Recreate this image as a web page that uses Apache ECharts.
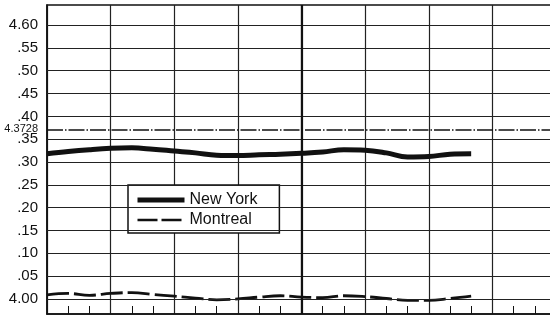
<!DOCTYPE html>
<html>
<head>
<meta charset="utf-8">
<script src="https://cdn.jsdelivr.net/npm/echarts@6/dist/echarts.min.js"></script>
<style>
  html, body { margin: 0; padding: 0; background: #fff; }
  #chart { width: 550px; height: 317px; }
</style>
</head>
<body>
<div id="chart"></div>
<script>
// months from the start of the period (vertical grid every 3 months)
const months = [0, 1, 2, 3, 4, 5, 6, 7, 8, 9, 10, 11, 12, 13, 14, 15, 16, 17, 18, 19, 20]
const newYork = [4.318, 4.323, 4.327, 4.330, 4.331, 4.328, 4.324, 4.320, 4.315, 4.314, 4.316,
  4.317, 4.319, 4.322, 4.327, 4.326, 4.320, 4.311, 4.312, 4.317, 4.318]
const montreal = [4.009, 4.012, 4.008, 4.012, 4.014, 4.010, 4.006, 4.002, 3.998, 4.000, 4.004,
  4.007, 4.004, 4.003, 4.007, 4.005, 4.001, 3.997, 3.997, 4.001, 4.006]

const yTickValues = [4.00, 4.05, 4.10, 4.15, 4.20, 4.25, 4.30, 4.35, 4.40, 4.45, 4.50, 4.55, 4.60]
const yTickLabels = ['4.00', '.05', '.10', '.15', '.20', '.25', '.30', '.35', '.40', '.45', '.50', '.55', '4.60']
const refValue = 4.3728
const refLabel = '4.3728'

const chart = echarts.init(document.getElementById('chart'), null, { renderer: 'canvas' })
const font = "'Liberation Sans', Arial, sans-serif"
const hidden = { color: 'transparent', borderColor: 'transparent', borderWidth: 0, opacity: 0 }

chart.setOption({
  animation: false,
  backgroundColor: '#fff',
  textStyle: { fontFamily: font, color: '#111' },
  grid: {
    left: 47, top: 5, width: 509, height: 309,
    show: true, borderColor: '#111', borderWidth: 1.5,
    outerBoundsMode: 'none'
  },
  legend: {
    data: [
      { name: 'New York', itemStyle: hidden, lineStyle: { color: '#111', width: 5, type: 'solid' } },
      { name: 'Montreal', itemStyle: hidden, lineStyle: { color: '#111', width: 2.5, type: [20, 4] } }
    ],
    orient: 'vertical',
    left: 128, top: 185,
    padding: [7, 22, 5, 7],
    itemGap: 4,
    itemWidth: 47, itemHeight: 14,
    backgroundColor: '#fff',
    borderColor: '#111', borderWidth: 1.5, borderRadius: 0,
    textStyle: { fontSize: 16, color: '#111', fontFamily: font },
    selectedMode: false
  },
  xAxis: {
    type: 'value', min: 0, max: 24, interval: 3,
    axisLine: { show: true, lineStyle: { color: '#111', width: 1.5 } },
    axisTick: { show: false, inside: true },
    minorTick: { show: true, splitNumber: 3, length: 8, lineStyle: { color: '#111', width: 1 } },
    axisLabel: { show: false },
    splitLine: { show: true, lineStyle: { color: '#222', width: 1.2 } }
  },
  yAxis: {
    type: 'value', min: 3.967, max: 4.644,
    axisLine: { show: true, lineStyle: { color: '#111', width: 1.5 } },
    axisTick: { show: false },
    splitLine: { show: false },
    axisLabel: {
      customValues: yTickValues.concat([refValue]),
      margin: 9,
      fontSize: 15,
      color: '#111',
      fontFamily: font,
      formatter: (v) => {
        if (Math.abs(v - refValue) < 1e-6) return '{s|' + refLabel + '}'
        const i = yTickValues.findIndex(t => Math.abs(t - v) < 1e-6)
        return i >= 0 ? yTickLabels[i] : ''
      },
      rich: {
        s: { fontSize: 11, fontFamily: "'Liberation Sans Narrow', 'Liberation Sans', sans-serif", color: '#111' }
      }
    }
  },
  series: [
    {
      type: 'line',
      data: [],
      silent: true,
      z: 1,
      markLine: {
        silent: true,
        symbol: ['none', 'none'],
        label: { show: false },
        animation: false,
        data: yTickValues.map(v => ({ yAxis: v, lineStyle: { color: '#222', width: 1.2, type: 'solid' } }))
          .concat([
            { yAxis: refValue, lineStyle: { color: '#111', width: 1.5, type: [16, 2, 1.5, 2] } },
            { xAxis: 12, lineStyle: { color: '#111', width: 2.2, type: 'solid' } }
          ])
      }
    },
    {
      name: 'New York',
      type: 'line',
      smooth: 0.4,
      symbol: 'none',
      z: 3,
      lineStyle: { color: '#111', width: 5 },
      itemStyle: { color: '#111' },
      data: months.map((m, i) => [m, newYork[i]])
    },
    {
      name: 'Montreal',
      type: 'line',
      smooth: 0.4,
      symbol: 'none',
      z: 3,
      lineStyle: { color: '#111', width: 2.8, type: [22, 5] },
      itemStyle: { color: '#111' },
      data: months.map((m, i) => [m, montreal[i]])
    }
  ]
})
</script>
</body>
</html>
